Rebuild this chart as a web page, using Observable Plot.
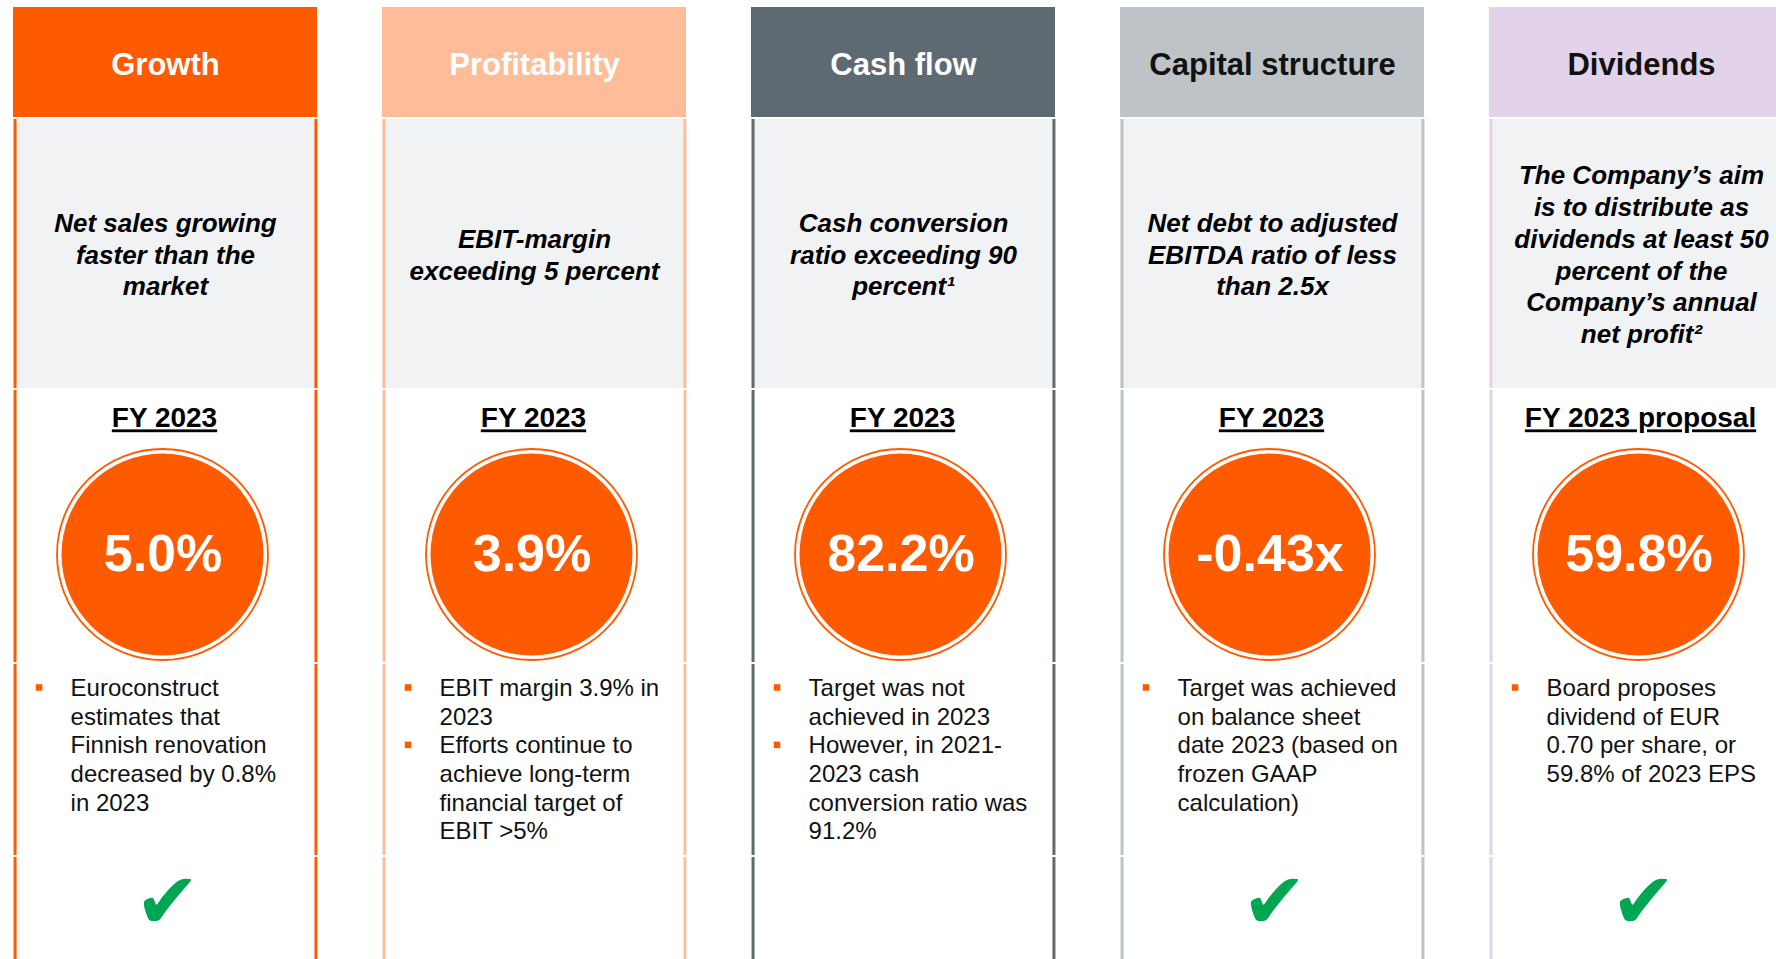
<!DOCTYPE html>
<html>
<head>
<meta charset="utf-8">
<script src="https://cdn.jsdelivr.net/npm/d3@7"></script>
<script src="https://cdn.jsdelivr.net/npm/@observablehq/plot@0.6"></script>
<style>
  html, body { margin: 0; padding: 0; background: #fff; overflow: hidden; }
  #chart svg { display: block; overflow: hidden; }
</style>
</head>
<body>
<div id="chart"></div>
<script>
// ---- data ----
const categories = ["Growth", "Profitability", "Cash flow", "Capital structure", "Dividends"];
const headerColors = ["#FE5A00", "#FFBC99", "#5E6A71", "#BDC3C7", "#E2D3EA"];
const headerTextColors = ["#ffffff", "#ffffff", "#ffffff", "#111111", "#111111"];
const targets = [
  "Net sales growing\nfaster than the\nmarket",
  "EBIT-margin\nexceeding 5 percent",
  "Cash conversion\nratio exceeding 90\npercent¹",
  "Net debt to adjusted\nEBITDA ratio of less\nthan 2.5x",
  "The Company’s aim\nis to distribute as\ndividends at least 50\npercent of the\nCompany’s annual\nnet profit²"
];
const periods = ["FY 2023", "FY 2023", "FY 2023", "FY 2023", "FY 2023 proposal"];
const results = ["5.0%", "3.9%", "82.2%", "-0.43x", "59.8%"];
const comments = [
  ["Euroconstruct\nestimates that\nFinnish renovation\ndecreased by 0.8%\nin 2023"],
  ["EBIT margin 3.9% in\n2023", "Efforts continue to\nachieve long-term\nfinancial target of\nEBIT >5%"],
  ["Target was not\nachieved in 2023", "However, in 2021-\n2023 cash\nconversion ratio was\n91.2%"],
  ["Target was achieved\non balance sheet\ndate 2023 (based on\nfrozen GAAP\ncalculation)"],
  ["Board proposes\ndividend of EUR\n0.70 per share, or\n59.8% of 2023 EPS"]
];
const achieved = [true, false, false, true, true];

// ---- build tables ----
const ORANGE = "#FE5A00";
const cols = categories.map((cat, i) => ({
  cat, color: headerColors[i], textColor: headerTextColors[i],
  target: targets[i], period: periods[i], result: results[i], ok: achieved[i]
}));

// layout rows (pixel positions of the slide grid)
const HEADER = [7, 117], TARGET = [119, 388];
const rowSpans = [[119, 388], [390, 662], [664, 855], [857, 959]];
const borders = [];
cols.forEach(c => rowSpans.forEach(([a, b]) => {
  borders.push({cat: c.cat, color: c.color, y1: a, y2: b, side: -1});
  borders.push({cat: c.cat, color: c.color, y1: a, y2: b, side: 1});
}));

const BULLET_TOP = 675, LINE = 28.7;
const bulletRows = [];
comments.forEach((items, i) => {
  let acc = 0;
  items.forEach(t => {
    bulletRows.push({cat: categories[i], text: t, y: BULLET_TOP + acc * LINE});
    acc += t.split("\n").length;
  });
});

const FONT = "'Liberation Sans', Arial, Helvetica, sans-serif";
const BW = 303.9; // band width of a column
const half = BW / 2;

const plot = Plot.plot({
  width: 1776,
  height: 959,
  margin: 0,
  style: {fontFamily: FONT, background: "#fff"},
  x: {type: "band", domain: categories, range: [12, 1793], paddingInner: 0.177, paddingOuter: 0, axis: null},
  y: {domain: [0, 959], range: [0, 959], axis: null},
  color: {type: "identity"},
  marks: [
    // header blocks
    Plot.barY(cols, {x: "cat", y1: HEADER[0], y2: HEADER[1], fill: "color"}),
    // target grey boxes
    Plot.barY(cols, {x: "cat", y1: TARGET[0], y2: TARGET[1], fill: "#F1F2F4"}),
    // column borders (left & right), interrupted between rows
    Plot.ruleX(borders.filter(d => d.side < 0), {x: "cat", y1: "y1", y2: "y2", stroke: "color", strokeWidth: 3, dx: -half + 1.5}),
    Plot.ruleX(borders.filter(d => d.side > 0), {x: "cat", y1: "y1", y2: "y2", stroke: "color", strokeWidth: 3, dx: half - 1.5}),
    // header titles
    Plot.text(cols, {x: "cat", y: 52, text: "cat", fill: "textColor", fontSize: 31, fontWeight: "bold", lineAnchor: "top"}),
    // target descriptions
    Plot.text(cols, {x: "cat", y: 253, text: "target", fill: "#000", fontSize: 26, fontWeight: "bold", fontStyle: "italic", lineAnchor: "middle", lineHeight: 1.22}),
    // period labels
    Plot.text(cols, {x: "cat", y: 407, text: "period", fill: "#000", fontSize: 28, fontWeight: "bold", lineAnchor: "top", dx: -1}),
    // result circles
    Plot.dot(cols, {x: "cat", y: 554, r: 105.5, fill: "none", stroke: ORANGE, strokeWidth: 1.8, dx: -3}),
    Plot.dot(cols, {x: "cat", y: 554, r: 101, fill: ORANGE, dx: -3}),
    Plot.text(cols, {x: "cat", y: 554, text: "result", fill: "#fff", fontSize: 52, fontWeight: "bold", lineAnchor: "middle", dx: -2.5}),
    // bullet squares & comments
    Plot.dot(bulletRows, {x: "cat", y: d => d.y + 12, symbol: "square", r: 3.7, fill: ORANGE, dx: -half + 25.5}),
    Plot.text(bulletRows, {x: "cat", y: "y", text: "text", fill: "#111", fontSize: 24, lineAnchor: "top", textAnchor: "start", lineHeight: 1.196, dx: -half + 57}),
    // achieved check marks
    Plot.text(cols.filter(d => d.ok), {x: "cat", y: 903, text: () => "✔", fill: "#00A651", fontSize: 78, fontFamily: "DejaVu Sans", lineAnchor: "middle", dx: 2})
  ]
});

// underline the period labels
d3.select(plot).selectAll("text")
  .filter(function () { return periods.includes(this.textContent); })
  .attr("text-decoration", "underline")
  .style("text-decoration", "underline");
document.getElementById("chart").append(plot);
</script>
</body>
</html>
